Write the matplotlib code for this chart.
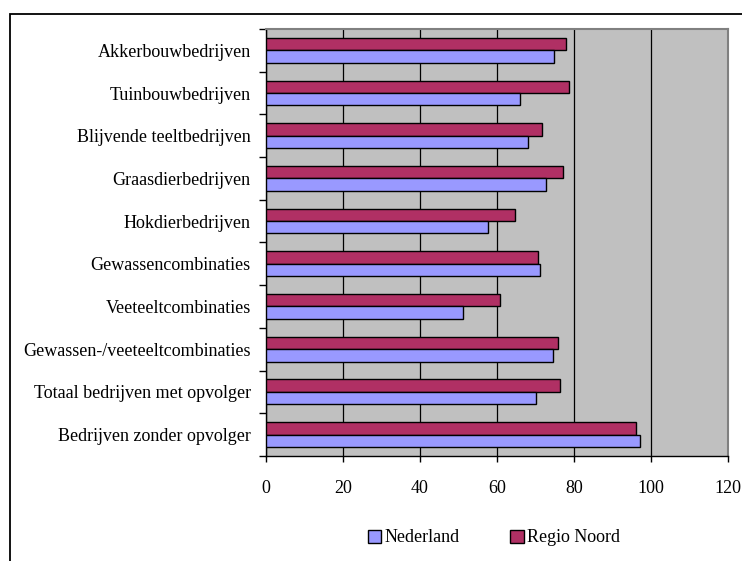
# Horizontal bar chart: Nederland vs Regio Noord per bedrijfstype
import numpy as np
import matplotlib.pyplot as plt
from matplotlib.patches import Rectangle

# Data
categories = ["Akkerbouwbedrijven", "Tuinbouwbedrijven", "Blijvende teeltbedrijven",
              "Graasdierbedrijven", "Hokdierbedrijven", "Gewassencombinaties",
              "Veeteeltcombinaties", "Gewassen-/veeteeltcombinaties",
              "Totaal bedrijven met opvolger", "Bedrijven zonder opvolger"]
nederland = [74.9, 66.0, 68.0, 72.7, 57.7, 71.1, 51.3, 74.6, 70.1, 97.1]
regio_noord = [77.9, 78.7, 71.7, 77.2, 64.8, 70.8, 60.9, 75.9, 76.5, 96.2]
x_ticks = [0, 20, 40, 60, 80, 100, 120]

plt.rcParams["font.family"] = ["Liberation Serif", "DejaVu Serif"]

fig = plt.figure(figsize = (7.42, 5.61), dpi = 100)
ax = fig.add_axes([266 / 742, 1 - 456 / 561, (727.7 - 266) / 742, (456 - 29) / 561])
ax.set_facecolor("#C0C0C0")

# Outer chart border (left and top visible)
fig.patches.append(Rectangle((9.5 / 742, -0.1), 1.2, 1.1 - 14 / 561,
                             transform = fig.transFigure, fill = False,
                             edgecolor = "black", linewidth = 1.3))

# Bars
y = np.arange(len(categories))
h = 0.29
ax.barh(y - 0.148, regio_noord, height = h, color = "#B03064", edgecolor = "black",
        linewidth = 1.0, label = "Regio Noord", zorder = 3)
ax.barh(y + 0.142, nederland, height = h, color = "#9999FF", edgecolor = "black",
        linewidth = 1.0, label = "Nederland", zorder = 3)

# Axes
ax.set_xlim(0, 120)
ax.set_ylim(len(categories) - 0.5, -0.5)
ax.set_xticks(x_ticks)
ax.set_xticklabels([str(v) for v in x_ticks], fontsize = 13)
ax.tick_params(axis = "x", direction = "out", length = 4.5, width = 1, pad = 12.5)
ax.set_yticks(y)
ax.set_yticklabels(categories, fontsize = 13)
ax.tick_params(axis = "y", length = 0, pad = 11)
ax.set_yticks(np.arange(-0.5, len(categories), 1), minor = True)
ax.tick_params(axis = "y", which = "minor", direction = "out", length = 4.8, width = 1)
ax.grid(axis = "x", color = "black", linewidth = 0.9, zorder = 1)

for side in ["top", "right"]:
    ax.spines[side].set_color("#808080")
    ax.spines[side].set_linewidth(1.5)
for side in ["left", "bottom"]:
    ax.spines[side].set_color("black")
    ax.spines[side].set_linewidth(1.0)

# Legend
handles, labels = ax.get_legend_handles_labels()
fig.legend(handles[::-1], labels[::-1], loc = "center", bbox_to_anchor = (494 / 742, 1 - 538 / 561),
           ncol = 2, frameon = False, fontsize = 13, handlelength = 0.75, handleheight = 0.75,
           handletextpad = 0.2, columnspacing = 2.8)

plt.savefig("out.png", dpi = 100)
